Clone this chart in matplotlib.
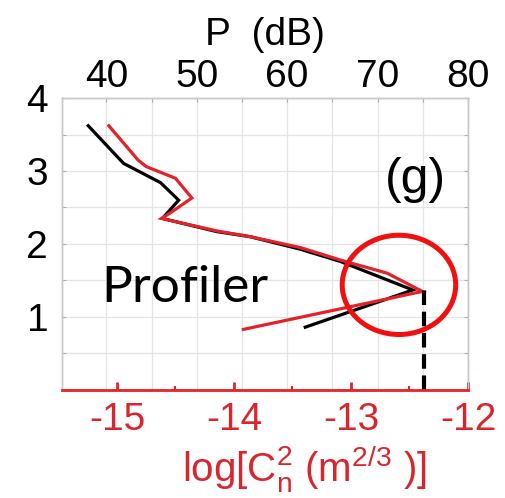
import matplotlib
matplotlib.use('Agg')
import matplotlib.pyplot as plt
from matplotlib.patches import Ellipse
from matplotlib.ticker import MultipleLocator

plt.rcParams['font.family'] = ['Liberation Sans', 'DejaVu Sans']
plt.rcParams['mathtext.default'] = 'regular'

RED = '#e3222a'
LABEL_RED = '#d9262e'
GRID = '#e4e4e4'

# black curve: received power P (dB) vs height (km)
p_db = [38.0, 41.9, 46.0, 48.0, 46.2, 52.2, 55.9, 61.4, 65.9, 73.9, 62.0]
h_p = [3.62, 3.105, 2.84, 2.60, 2.35, 2.17, 2.10, 1.93, 1.76, 1.37, 0.86]

# red curve: log Cn2 vs height
log_cn2 = [-15.07, -14.82, -14.75, -14.50, -14.36, -14.55, -14.62, -14.15,
           -13.86, -13.43, -13.09, -12.69, -12.39, -13.92]
h_cn = [3.62, 3.15, 3.06, 2.90, 2.63, 2.42, 2.35, 2.18, 2.10, 1.95, 1.78,
        1.60, 1.35, 0.83]

# marker for the peak
peak_cn = -12.375
peak_h = 1.37
circle_center = (-12.59, 1.44)
circle_size = (0.97, 1.36)

fig = plt.figure(figsize=(5.05, 4.98), dpi=100)
ax = fig.add_axes([0.1228, 0.2169, 0.8039, 0.5863])
ax2 = ax.twiny()
ax.set_zorder(2)
ax2.set_zorder(1)
ax.patch.set_visible(False)

ax.set_xlim(-15.47, -12.0)
ax.set_ylim(0, 4)
ax2.set_xlim(35.1, 80)

# grids
ax.yaxis.set_major_locator(MultipleLocator(1))
ax.yaxis.set_minor_locator(MultipleLocator(0.5))
ax.set_yticks([1, 2, 3, 4])
ax.grid(True, axis='y', which='both', color=GRID, lw=0.9)
ax2.xaxis.set_major_locator(MultipleLocator(10))
ax2.xaxis.set_minor_locator(MultipleLocator(5))
ax2.set_xticks([40, 50, 60, 70, 80])
ax2.grid(True, axis='x', which='both', color=GRID, lw=0.9)

# curves
ax.plot(p_db, h_p, color='black', lw=2.3, transform=ax2.transData,
        solid_joinstyle='miter')
ax.plot(log_cn2, h_cn, color=RED, lw=2.3, solid_joinstyle='miter')
ax.plot([peak_cn, peak_cn], [0, peak_h], color='black', lw=3,
        ls=(0, (3.5, 1.6)))
ax.add_patch(Ellipse(circle_center, circle_size[0], circle_size[1],
                     fill=False, ec='#f01010', lw=3.6, zorder=5))

ax.text(0.097, 0.3, 'Profiler', transform=ax.transAxes, fontsize=37,
        family=['Lato', 'DejaVu Sans'], color='black')
ax.text(0.87, 0.72, '(g)', transform=ax.transAxes, fontsize=36,
        ha='center', va='center', color='black')

# bottom axis (red)
ax.xaxis.set_major_locator(MultipleLocator(1))
ax.xaxis.set_minor_locator(MultipleLocator(0.5))
ax.set_xticks([-15, -14, -13, -12])
ax.set_xticklabels(['-15', '-14', '-13', '-12'])
ax.tick_params(axis='x', which='major', direction='in', length=6, width=2,
               color=RED, labelcolor=LABEL_RED, labelsize=28, pad=9)
ax.tick_params(axis='x', which='minor', direction='in', length=3, width=1.5,
               color=RED)
ax.tick_params(axis='y', which='both', direction='in', length=3, width=0.8,
               color='#b0b0b0', labelsize=28, pad=10, right=True)
ax.set_xlabel(r'log[C$_n^2$ (m$^{2/3}$ )]', color=LABEL_RED, fontsize=29)
ax.xaxis.set_label_coords(0.596, -0.185)

ax2.tick_params(axis='x', which='both', direction='in', length=3, width=0.8,
                color='#b0b0b0', labelsize=28, pad=2)
ax2.set_xlabel('P  (dB)', fontsize=28, labelpad=10)

for a in (ax, ax2):
    for s in ('left', 'right', 'top'):
        a.spines[s].set_color('#c8c8c8')
        a.spines[s].set_linewidth(1)
ax.spines['bottom'].set_color(RED)
ax.spines['bottom'].set_linewidth(2)
ax2.spines['bottom'].set_visible(False)

fig.savefig('out.png', dpi=100)
